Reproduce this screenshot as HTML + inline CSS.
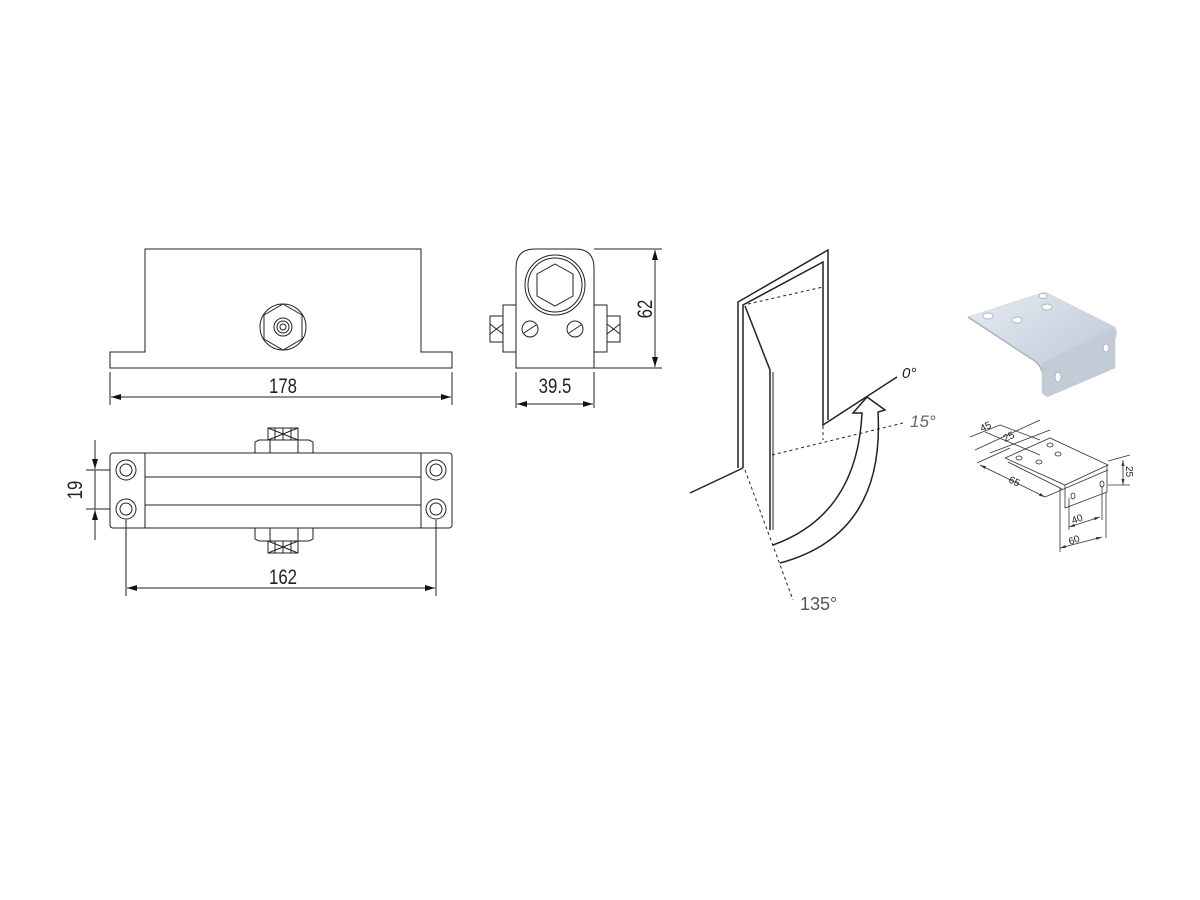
<!DOCTYPE html>
<html><head><meta charset="utf-8"><style>
html,body{margin:0;padding:0;background:#fff;}
svg{display:block;}
text{font-family:"Liberation Sans",sans-serif;fill:#222;}
</style></head><body>
<svg width="1200" height="900" viewBox="0 0 1200 900" xmlns="http://www.w3.org/2000/svg">
<defs>
<marker id="a" viewBox="0 0 10 6" refX="10" refY="3" markerWidth="10" markerHeight="6" orient="auto-start-reverse" markerUnits="userSpaceOnUse"><path d="M0,0L10,3L0,6z" fill="#111"/></marker>
<marker id="s" viewBox="0 0 8 4" refX="8" refY="2" markerWidth="6" markerHeight="3" orient="auto-start-reverse" markerUnits="userSpaceOnUse"><path d="M0,0L8,2L0,4z" fill="#333"/></marker>
<linearGradient id="g" x1="0" y1="0" x2="1" y2="1"><stop offset="0" stop-color="#e4ebf4"/><stop offset="1" stop-color="#b8c2cf"/></linearGradient>
</defs>
<g fill="none" stroke="#222" stroke-width="1">
<path d="M145,352V249H421V352H452V368H110V352Z"/>
<circle cx="283" cy="327" r="23"/>
<polygon points="283,304 302,315 302,339 283,350 264,339 264,315"/>
<circle cx="283" cy="327" r="9"/><circle cx="283" cy="327" r="6"/><circle cx="283" cy="327" r="3"/>
<path d="M110,372V405M452,372V405"/>
<line x1="111" y1="397" x2="451" y2="397" marker-start="url(#a)" marker-end="url(#a)"/>
<path d="M516,368V268Q516,249 535,249H575Q594,249 594,268V368Z"/>
<circle cx="555" cy="285" r="30"/><circle cx="555" cy="285" r="27"/>
<polygon points="555,264 573,274 573,296 555,306 537,296 537,274"/>
<rect x="503" y="305" width="13" height="47"/><rect x="594" y="305" width="13" height="47"/>
<rect x="490" y="316" width="13" height="26"/><rect x="607" y="316" width="13" height="26"/>
<path d="M490,324L503,334M503,324L490,334M607,324L620,334M620,324L607,334"/>
<circle cx="530" cy="329" r="8"/><circle cx="575" cy="329" r="8"/>
<path d="M524,333L536,325M569,333L581,325"/>
<path d="M594,249H662M594,368H662"/>
<line x1="655" y1="250" x2="655" y2="367" marker-start="url(#a)" marker-end="url(#a)"/>
<path d="M516,372V408M594,372V408"/>
<line x1="517" y1="404" x2="593" y2="404" marker-start="url(#a)" marker-end="url(#a)"/>
<rect x="110" y="453" width="342" height="75" rx="3"/>
<path d="M145,453V528M421,453V528M145,477H421M145,505H421"/>
<g><circle cx="126" cy="470" r="10"/><circle cx="126" cy="470" r="6"/><circle cx="126" cy="509" r="10"/><circle cx="126" cy="509" r="6"/>
<circle cx="436" cy="470" r="10"/><circle cx="436" cy="470" r="6"/><circle cx="436" cy="509" r="10"/><circle cx="436" cy="509" r="6"/></g>
<path d="M255,453V442L259,440H309L313,442V453M270,440V453M298,440V453"/>
<rect x="268" y="428" width="30" height="12"/><path d="M275,428V440M283,428V440M291,428V440M268,428L298,440M298,428L268,440"/>
<path d="M255,528V539L259,541H309L313,539V528M270,528V541M298,528V541"/>
<rect x="268" y="541" width="30" height="12"/><path d="M275,541V553M283,541V553M291,541V553M268,541L298,553M298,541L268,553"/>
<path d="M86,470H110M86,509H110"/>
<line x1="95" y1="440" x2="95" y2="469" marker-end="url(#a)"/>
<line x1="95" y1="540" x2="95" y2="510" marker-end="url(#a)"/>
<path d="M95,470V509"/>
<path d="M126,520V596M436,520V596"/>
<line x1="127" y1="588" x2="435" y2="588" marker-start="url(#a)" marker-end="url(#a)"/>
<g stroke-width="1.5">
<path d="M738,468V302L828,250V420M743,468V305L823,262V425L897,377"/>
<path d="M690,493L743,468"/>
<path d="M745,306L770,370V530"/>
<path d="M773,372V530" stroke-width="1"/>
<path d="M773,545Q857,515 862,413L853,413L867,397L885,410L878,412Q885,535 780,563"/>
</g>
<g stroke-dasharray="3,3"><path d="M748,304L823,287V440M772,455L903,423M745,470L793,600"/></g>
<g stroke="#333" stroke-width="0.8">
<path d="M1005,458L1050,438L1108,465L1065,485L1005,458"/>
<path d="M1008,462L1062,489"/>
<path d="M1065,485V508L1107,492V465"/>
<path d="M1060,488V502"/>
<ellipse cx="1050" cy="445" rx="3" ry="2"/><ellipse cx="1058" cy="454" rx="3" ry="2"/><ellipse cx="1019" cy="458" rx="3" ry="2"/><ellipse cx="1039" cy="462" rx="3" ry="2"/>
<ellipse cx="1073" cy="496" rx="2" ry="3"/><ellipse cx="1102" cy="484" rx="2" ry="3"/>
<path d="M970,437L1000,425M985,432L1040,455M1000,425L1040,440M975,450L1040,420M990,453L1050,430"/>
<path d="M977,463L1010,448M1045,497L1108,470M1108,461L1130,455M1108,485L1130,485"/>
<line x1="980" y1="465" x2="1045" y2="497" marker-start="url(#s)" marker-end="url(#s)"/>
<line x1="1123" y1="460" x2="1123" y2="485" marker-start="url(#s)" marker-end="url(#s)"/>
<path d="M1069,498V530M1102,486V520M1060,502V552M1106,492V538"/>
<line x1="1069" y1="527" x2="1100" y2="517" marker-start="url(#s)" marker-end="url(#s)"/>
<line x1="1060" y1="548" x2="1102" y2="537" marker-start="url(#s)" marker-end="url(#s)"/>
</g>
</g>
<path d="M968,317L1045,292L1115,327Q1118,333 1115,340V368L1047,397L1042,393V372Q1040,363 1030,358Z" fill="url(#g)" stroke="#c5ccd6" stroke-width="0.5"/>
<path d="M1042,363L1115,327V368L1047,397L1042,393Z" fill="#c3cbd6"/>
<path d="M968,317L1030,358Q1040,363 1042,372" fill="none" stroke="#a8b2bf" stroke-width="1.5"/>
<g fill="#fff" stroke="#9aa4b0" stroke-width="0.7">
<ellipse cx="988" cy="316" rx="5" ry="3"/><ellipse cx="1017" cy="320" rx="5" ry="3"/><ellipse cx="1047" cy="307" rx="5" ry="3"/><ellipse cx="1043" cy="296" rx="4" ry="2.5"/>
<ellipse cx="1058" cy="377" rx="3" ry="5"/><ellipse cx="1106" cy="348" rx="3" ry="4"/>
</g>
<text font-size="21" text-anchor="middle" transform="translate(283,393) scale(0.8,1)">178</text>
<text font-size="21" text-anchor="middle" transform="translate(555,393) scale(0.8,1)">39.5</text>
<text font-size="21" text-anchor="middle" transform="translate(283,584) scale(0.8,1)">162</text>
<text font-size="21" text-anchor="middle" transform="translate(652,309) rotate(-90) scale(0.8,1)">62</text>
<text font-size="21" text-anchor="middle" transform="translate(82,490) rotate(-90) scale(0.8,1)">19</text>
<text x="902" y="378" font-size="15" font-style="italic" fill="#444">0°</text>
<text x="910" y="427" font-size="17" font-style="italic" style="fill:#666">15°</text>
<text x="800" y="610" font-size="18" style="fill:#555">135°</text>
<g font-size="10">
<text transform="translate(982,432) rotate(-25)">45</text>
<text transform="translate(1005,442) rotate(-25)">25</text>
<text transform="translate(1008,482) rotate(25)">65</text>
<text transform="translate(1126,466) rotate(90)">25</text>
<text transform="translate(1073,524) rotate(-20)">40</text>
<text transform="translate(1070,545) rotate(-20)">60</text>
</g>
</svg>
</body></html>
